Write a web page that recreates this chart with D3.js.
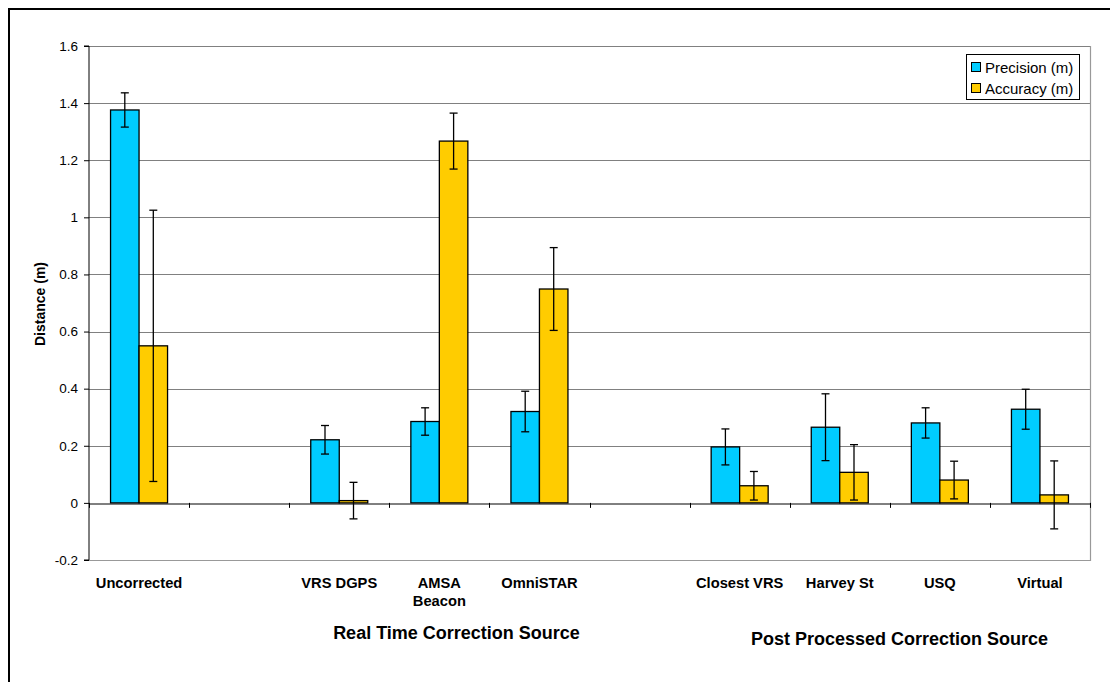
<!DOCTYPE html>
<html><head><meta charset="utf-8">
<script src="https://cdn.jsdelivr.net/npm/d3@7"></script>
<style>body{margin:0;background:#fff}svg{display:block}text{font-family:Arial,"Liberation Sans",sans-serif;fill:#000}</style>
</head><body><svg id="c" width="1110" height="682"></svg>
<script>
const categories = [["Uncorrected"], [""], ["VRS DGPS"], ["AMSA","Beacon"], ["OmniSTAR"], [""], ["Closest VRS"], ["Harvey St"], ["USQ"], ["Virtual"]];
const seriesNames = ["Precision (m)", "Accuracy (m)"];
const precision = [1.376, null, 0.221, 0.285, 0.32, null, 0.196, 0.265, 0.28, 0.328];
const precisionErr = [0.06, null, 0.05, 0.048, 0.071, null, 0.063, 0.117, 0.053, 0.07];
const accuracy = [0.55, null, 0.008, 1.267, 0.749, null, 0.06, 0.107, 0.08, 0.028];
const accuracyErr = [0.475, null, 0.064, 0.098, 0.145, null, 0.05, 0.097, 0.066, 0.119];
const yTicks = [-0.2, 0, 0.2, 0.4, 0.6, 0.8, 1, 1.2, 1.4, 1.6];
const groupTitles = ["Real Time Correction Source", "Post Processed Correction Source"];
const colors = ["#00CCFF", "#FFCC00"];

const svg = d3.select("#c");
const L = 89, R = 1090, T = 46, B = 560;
svg.append("rect").attr("x",9).attr("y",9).attr("width",1140).attr("height",720).attr("fill","none").attr("stroke","#000").attr("stroke-width",2);

const x = d3.scaleBand().domain(d3.range(categories.length)).range([L, R]);
const xs = d3.scaleBand().domain([0,1]).range([0, 57]);
const y = d3.scaleLinear().domain([-0.2, 1.6]).range([B, T]);

// gridlines
svg.append("g").selectAll("line").data(yTicks.filter(d => d !== 0 && d !== -0.2)).join("line")
  .attr("x1", L).attr("x2", R).attr("y1", d => Math.round(y(d))+0.5).attr("y2", d => Math.round(y(d))+0.5)
  .attr("stroke", "#808080").attr("stroke-width", 1);
// plot border right & bottom
svg.append("path").attr("d", `M${L},${Math.round(y(-0.2))+0.5}H${R+0.5}V${T}`).attr("fill","none").attr("stroke","#999").attr("stroke-width",1.2);

// y axis
const yAxis = d3.axisLeft(y).tickValues(yTicks).tickSize(5).tickPadding(6).tickFormat(d => String(d));
const gy = svg.append("g").attr("transform", `translate(${L},0)`).call(yAxis);
gy.select(".domain").attr("stroke","#000").attr("d", `M-5,${y(1.6)}H0V${y(-0.2)}H-5`);
gy.selectAll(".tick line").attr("stroke","#000");
gy.selectAll("text").attr("font-size", 13.5).style("font-family","Arial, 'Liberation Sans', sans-serif").attr("fill","#000");

// zero axis with ticks
const xAxis = d3.axisBottom(x).tickValues([]).tickSize(0);
const gx = svg.append("g").attr("transform", `translate(0,${Math.round(y(0))+0.5})`).call(xAxis);
gx.select(".domain").attr("stroke","#000");
svg.append("g").selectAll("line").data(d3.range(categories.length+1)).join("line")
  .attr("x1", i => Math.round(L + i*x.step())+0.5).attr("x2", i => Math.round(L + i*x.step())+0.5)
  .attr("y1", y(0)).attr("y2", y(0)+5).attr("stroke","#000");

// bars
const series = [{v: precision, e: precisionErr}, {v: accuracy, e: accuracyErr}];
series.forEach((s, si) => {
  const g = svg.append("g");
  const data = s.v.map((v, i) => ({v, e: s.e[i], i})).filter(d => d.v !== null);
  const bx = d => x(d.i) + (x.bandwidth() - 57)/2 + xs(si);
  g.selectAll("rect").data(data).join("rect")
    .attr("x", bx).attr("width", xs.bandwidth())
    .attr("y", d => y(Math.max(0, d.v))).attr("height", d => Math.abs(y(d.v) - y(0)))
    .attr("fill", colors[si]).attr("stroke", "#000").attr("stroke-width", 1.3);
  const eg = svg.append("g").attr("stroke","#000").attr("stroke-width",1.3);
  data.forEach(d => {
    const cx = bx(d) + xs.bandwidth()/2;
    eg.append("line").attr("x1",cx).attr("x2",cx).attr("y1",y(d.v+d.e)).attr("y2",y(d.v-d.e));
    eg.append("line").attr("x1",cx-4).attr("x2",cx+4).attr("y1",y(d.v+d.e)).attr("y2",y(d.v+d.e));
    eg.append("line").attr("x1",cx-4).attr("x2",cx+4).attr("y1",y(d.v-d.e)).attr("y2",y(d.v-d.e));
  });
});

// category labels
categories.forEach((lines, i) => {
  const t = svg.append("text").attr("x", x(i) + x.bandwidth()/2).attr("y", 588)
    .attr("text-anchor","middle").attr("font-size",14.7).attr("font-weight","bold");
  lines.forEach((ln, k) => t.append("tspan").attr("x", x(i) + x.bandwidth()/2).attr("dy", k ? 18 : 0).text(ln));
});

// group titles
svg.append("text").attr("x", 456.5).attr("y", 639).attr("text-anchor","middle").attr("font-size",18).attr("font-weight","bold").text(groupTitles[0]);
svg.append("text").attr("x", 899.5).attr("y", 645).attr("text-anchor","middle").attr("font-size",18).attr("font-weight","bold").text(groupTitles[1]);

// y title
svg.append("text").attr("transform","translate(45,304) rotate(-90)").attr("text-anchor","middle")
  .attr("font-size",14).attr("font-weight","bold").text("Distance (m)");

// legend
const lg = svg.append("g");
lg.append("rect").attr("x",966.5).attr("y",54.5).attr("width",113).attr("height",45).attr("fill","#fff").attr("stroke","#000");
seriesNames.forEach((n, i) => {
  lg.append("rect").attr("x",971.5).attr("y",62.5 + i*21).attr("width",9).attr("height",9).attr("fill",colors[i]).attr("stroke","#000");
  lg.append("text").attr("x",985).attr("y",73 + i*21).attr("font-size",15).text(n);
});
</script></body></html>
